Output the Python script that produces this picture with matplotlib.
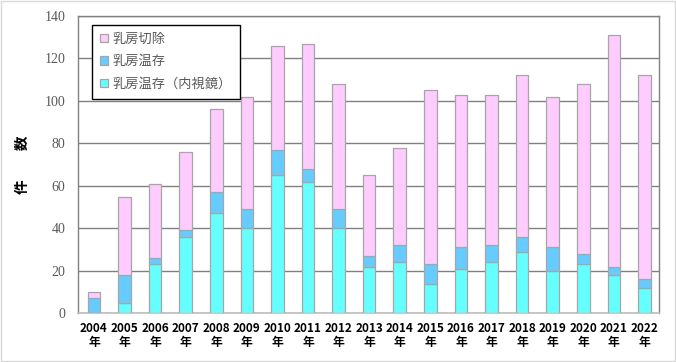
import numpy as np
import matplotlib.pyplot as plt
from matplotlib.patches import Rectangle

plt.rcParams['font.family'] = ['Noto Sans CJK JP', 'DejaVu Sans']

# データ
years = ['2004', '2005', '2006', '2007', '2008', '2009', '2010', '2011', '2012', '2013',
         '2014', '2015', '2016', '2017', '2018', '2019', '2020', '2021', '2022']
endoscopic = [0, 5, 23, 36, 47, 40, 65, 62, 40, 22, 24, 14, 21, 24, 29, 20, 23, 18, 12]
conserving = [7, 13, 3, 3, 10, 9, 12, 6, 9, 5, 8, 9, 10, 8, 7, 11, 5, 4, 4]
mastectomy = [3, 37, 35, 37, 39, 53, 49, 59, 59, 38, 46, 82, 72, 71, 76, 71, 80, 109, 96]
series_labels = ['乳房切除', '乳房温存', '乳房温存（内視鏡）']
colors = ['#FFCCFF', '#66CCFF', '#66FFFF']

def plot_chart():
    fig = plt.figure(figsize=(6.76, 3.62), dpi=100)
    ax = fig.add_axes([0.1154, 0.1345, 0.8596, 0.8213])

    x = np.arange(len(years))
    w = 0.41
    edge = dict(edgecolor='#A6A6A6', linewidth=0.9, zorder=3)
    b_endo = ax.bar(x, endoscopic, w, color=colors[2], **edge)
    b_cons = ax.bar(x, conserving, w, bottom=endoscopic, color=colors[1], **edge)
    bottom2 = np.array(endoscopic) + np.array(conserving)
    b_mast = ax.bar(x, mastectomy, w, bottom=bottom2, color=colors[0], **edge)

    ax.set_xlim(-0.52, len(years) - 0.52)
    ax.set_ylim(0, 140)
    ax.set_yticks(np.arange(0, 141, 20))
    ax.yaxis.grid(True, color='#808080', linewidth=1.0, zorder=0)
    ax.set_axisbelow(True)

    for s in ['left', 'right', 'top']:
        ax.spines[s].set_color('#808080')
        ax.spines[s].set_linewidth(1.0)
    ax.spines['bottom'].set_color('#BFBFBF')
    ax.spines['bottom'].set_linewidth(1.2)

    ax.tick_params(axis='y', length=0, pad=9, labelsize=10, labelcolor='#595959')
    for t in ax.get_yticklabels():
        t.set_fontfamily('Liberation Serif')
    ax.set_xticks(x)
    ax.set_xticklabels([y + '\n年' for y in years], fontsize=8.5, fontweight='bold',
                       linespacing=1.15)
    ax.tick_params(axis='x', length=0, pad=6)

    ax.set_ylabel('件\u3000\u3000数', fontsize=10.5, fontweight='bold')
    ax.yaxis.set_label_coords(-0.083, 0.5)

    leg = ax.legend([b_mast, b_cons, b_endo], series_labels, loc='upper left',
                    bbox_to_anchor=(0.024, 0.97), fancybox=False, framealpha=1,
                    edgecolor='black', fontsize=9.5, handlelength=0.6, handleheight=0.6,
                    handletextpad=0.35, labelspacing=0.72, borderpad=0.6,
                    borderaxespad=0)
    leg.get_frame().set_linewidth(1.0)
    leg.set_zorder(5)
    for t in leg.get_texts():
        t.set_color('#595959')

    fig.patches.append(Rectangle((0.002, 0.003), 0.996, 0.994, transform=fig.transFigure,
                                 fill=False, edgecolor='#D9D9D9', linewidth=1.0))

    plt.savefig('out.png', dpi=100)
    plt.close()

if __name__ == "__main__":
    plot_chart()
